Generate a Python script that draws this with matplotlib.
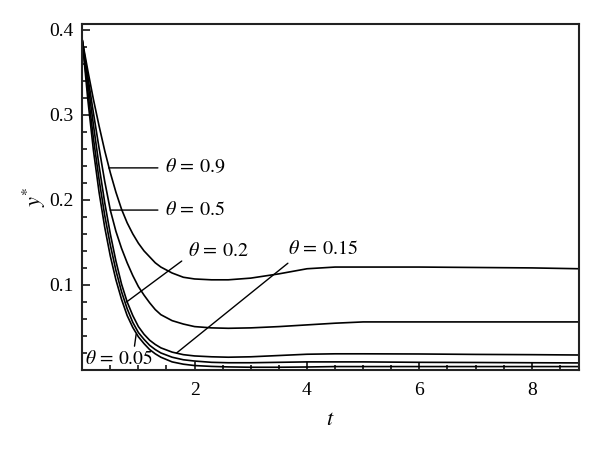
import matplotlib
matplotlib.use("Agg")
import matplotlib.pyplot as plt
from matplotlib.ticker import MultipleLocator

plt.rcParams['font.family'] = ['Liberation Serif', 'DejaVu Serif']
plt.rcParams['mathtext.fontset'] = 'stix'

# time samples
t = [0, 0.1, 0.2, 0.3, 0.4, 0.5, 0.6, 0.7, 0.8, 0.9, 1.0, 1.1, 1.2, 1.3, 1.4,
     1.6, 1.8, 2.0, 2.3, 2.6, 3.0, 3.5, 4.0, 4.5, 5.0, 6.0, 7.0, 8.0, 8.85]

# y* for each theta
y_090 = [0.388, 0.352, 0.318, 0.287, 0.258, 0.232, 0.209, 0.189, 0.173, 0.160,
         0.149, 0.140, 0.133, 0.126, 0.121, 0.114, 0.109, 0.107, 0.106, 0.106,
         0.108, 0.113, 0.119, 0.121, 0.121, 0.121, 0.1205, 0.120, 0.119]
y_050 = [0.388, 0.345, 0.302, 0.261, 0.222, 0.188, 0.163, 0.143, 0.126, 0.111,
         0.098, 0.088, 0.079, 0.071, 0.065, 0.058, 0.054, 0.051, 0.0495, 0.049,
         0.0495, 0.051, 0.053, 0.055, 0.0565, 0.0565, 0.0565, 0.0565, 0.0565]
y_020 = [0.388, 0.338, 0.288, 0.240, 0.197, 0.160, 0.128, 0.101, 0.080, 0.064,
         0.051, 0.042, 0.035, 0.030, 0.026, 0.021, 0.018, 0.0165, 0.0155, 0.015,
         0.0155, 0.017, 0.0185, 0.019, 0.019, 0.0188, 0.0183, 0.018, 0.0176]
y_015 = [0.388, 0.328, 0.272, 0.224, 0.182, 0.147, 0.117, 0.092, 0.072, 0.056,
         0.044, 0.036, 0.029, 0.024, 0.020, 0.015, 0.012, 0.0105, 0.009, 0.0085,
         0.0085, 0.009, 0.0095, 0.0095, 0.0095, 0.009, 0.0088, 0.0085, 0.0083]
y_005 = [0.388, 0.318, 0.258, 0.209, 0.168, 0.134, 0.106, 0.083, 0.064, 0.050,
         0.039, 0.031, 0.024, 0.019, 0.015, 0.0095, 0.0068, 0.0052, 0.0042, 0.0036,
         0.0032, 0.0032, 0.0035, 0.004, 0.004, 0.004, 0.004, 0.004, 0.004]

fig = plt.figure(figsize=(6, 4.49), dpi=100)
ax = fig.add_axes([0.137, 0.176, 0.828, 0.771])

for y in [y_090, y_050, y_020, y_015, y_005]:
    ax.plot(t, y, color='black', lw=1.2)

ax.set_xlim(0, 8.84)
ax.set_ylim(0, 0.407)
ax.xaxis.set_minor_locator(MultipleLocator(0.5))
ax.yaxis.set_minor_locator(MultipleLocator(0.02))
ax.set_xticks([2, 4, 6, 8])
ax.set_yticks([0.1, 0.2, 0.3, 0.4])
ax.set_yticklabels(['0.1', '0.2', '0.3', '0.4'])
ax.tick_params(which='both', direction='in', top=False, right=False,
               labelsize=14, width=1.1)
ax.tick_params(which='major', length=6)
ax.tick_params(axis='x', which='major', pad=9)
ax.tick_params(axis='y', which='major', pad=6)
ax.tick_params(which='minor', length=3.5)
for s in ax.spines.values():
    s.set_linewidth(1.5)
    s.set_color('#222222')

ax.set_xlabel('$t$', fontsize=16, labelpad=8)
ax.set_ylabel('$y^{*}$', fontsize=16, labelpad=1)

lbl = dict(fontsize=14.5, color='black')
line = dict(arrowstyle='-', color='black', lw=1.0, shrinkB=0)

ax.annotate(r'$\theta\,=\,\mathrm{0.9}$', xy=(0.47, 0.2376), xytext=(1.47, 0.2376),
            va='center', ha='left',
            arrowprops=dict(line, relpos=(0, 0.5), shrinkA=3), **lbl)
ax.annotate(r'$\theta\,=\,\mathrm{0.5}$', xy=(0.5, 0.188), xytext=(1.47, 0.188),
            va='center', ha='left',
            arrowprops=dict(line, relpos=(0, 0.5), shrinkA=3), **lbl)
ax.annotate(r'$\theta\,=\,\mathrm{0.2}$', xy=(0.79, 0.080), xytext=(1.88, 0.139),
            va='center', ha='left',
            arrowprops=dict(line, relpos=(0, 0.25), shrinkA=3), **lbl)
ax.annotate(r'$\theta\,=\,\mathrm{0.15}$', xy=(1.68, 0.020), xytext=(3.66, 0.142),
            va='center', ha='left',
            arrowprops=dict(line, relpos=(0.08, 0.0), shrinkA=2), **lbl)
ax.annotate(r'$\theta\,=\,\mathrm{0.05}$', xy=(0.96, 0.042), xytext=(0.05, 0.0125),
            va='center', ha='left', fontsize=14, color='black',
            arrowprops=dict(line, relpos=(0.72, 1.0), shrinkA=1))

fig.savefig('out.png', dpi=100)
